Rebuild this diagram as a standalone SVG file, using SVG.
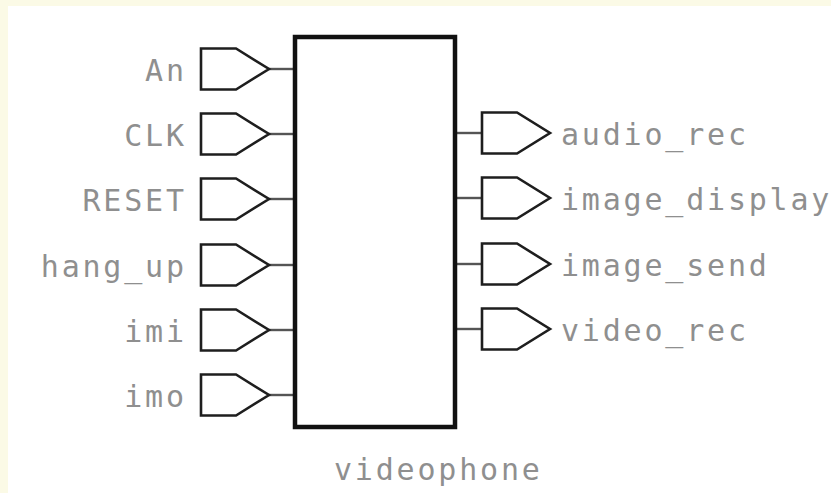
<svg xmlns="http://www.w3.org/2000/svg" width="831" height="493" viewBox="0 0 831 493">
<style>
.pin{fill:#fff;stroke:#1e1e1e;stroke-width:2.6;stroke-linejoin:miter}
.wire{stroke:#555;stroke-width:2.4}
.lbl{font-family:"DejaVu Sans Mono","Liberation Mono",monospace;font-size:30px;letter-spacing:2.8px;fill:#8f8f8f}
</style>
<rect width="831" height="493" fill="#fbfae6"/>
<rect x="8" y="6" width="823" height="487" fill="#fff"/>
<defs>
<polygon id="pinshape" points="0,-20.5 35,-20.5 68,0 35,20.5 0,20.5"/>
</defs>
<g id="connectors">
<line class="wire" x1="269" y1="69" x2="295" y2="69"/>
<line class="wire" x1="269" y1="134" x2="295" y2="134"/>
<line class="wire" x1="269" y1="199" x2="295" y2="199"/>
<line class="wire" x1="269" y1="265" x2="295" y2="265"/>
<line class="wire" x1="269" y1="330" x2="295" y2="330"/>
<line class="wire" x1="269" y1="395" x2="295" y2="395"/>
<line class="wire" x1="455" y1="133" x2="482" y2="133"/>
<line class="wire" x1="455" y1="198" x2="482" y2="198"/>
<line class="wire" x1="455" y1="264" x2="482" y2="264"/>
<line class="wire" x1="455" y1="329" x2="482" y2="329"/>
</g>
<g id="videophone">
<rect x="295" y="37" width="160" height="390" fill="#fff" stroke="#111" stroke-width="4.5"/>
<text class="lbl" x="334" y="480">videophone</text>
</g>
<g id="An"><use href="#pinshape" class="pin" transform="translate(201,69)"/><text class="lbl" x="186.8" y="81" text-anchor="end">An</text></g>
<g id="CLK"><use href="#pinshape" class="pin" transform="translate(201,134)"/><text class="lbl" x="186.8" y="146" text-anchor="end">CLK</text></g>
<g id="RESET"><use href="#pinshape" class="pin" transform="translate(201,199)"/><text class="lbl" x="186.8" y="211" text-anchor="end">RESET</text></g>
<g id="hang_up"><use href="#pinshape" class="pin" transform="translate(201,265)"/><text class="lbl" x="186.8" y="277" text-anchor="end">hang_up</text></g>
<g id="imi"><use href="#pinshape" class="pin" transform="translate(201,330)"/><text class="lbl" x="186.8" y="342" text-anchor="end">imi</text></g>
<g id="imo"><use href="#pinshape" class="pin" transform="translate(201,395)"/><text class="lbl" x="186.8" y="407" text-anchor="end">imo</text></g>
<g id="audio_rec"><use href="#pinshape" class="pin" transform="translate(482,133)"/><text class="lbl" x="561" y="145">audio_rec</text></g>
<g id="image_display"><use href="#pinshape" class="pin" transform="translate(482,198)"/><text class="lbl" x="561" y="210">image_display</text></g>
<g id="image_send"><use href="#pinshape" class="pin" transform="translate(482,264)"/><text class="lbl" x="561" y="276">image_send</text></g>
<g id="video_rec"><use href="#pinshape" class="pin" transform="translate(482,329)"/><text class="lbl" x="561" y="341">video_rec</text></g>
</svg>
